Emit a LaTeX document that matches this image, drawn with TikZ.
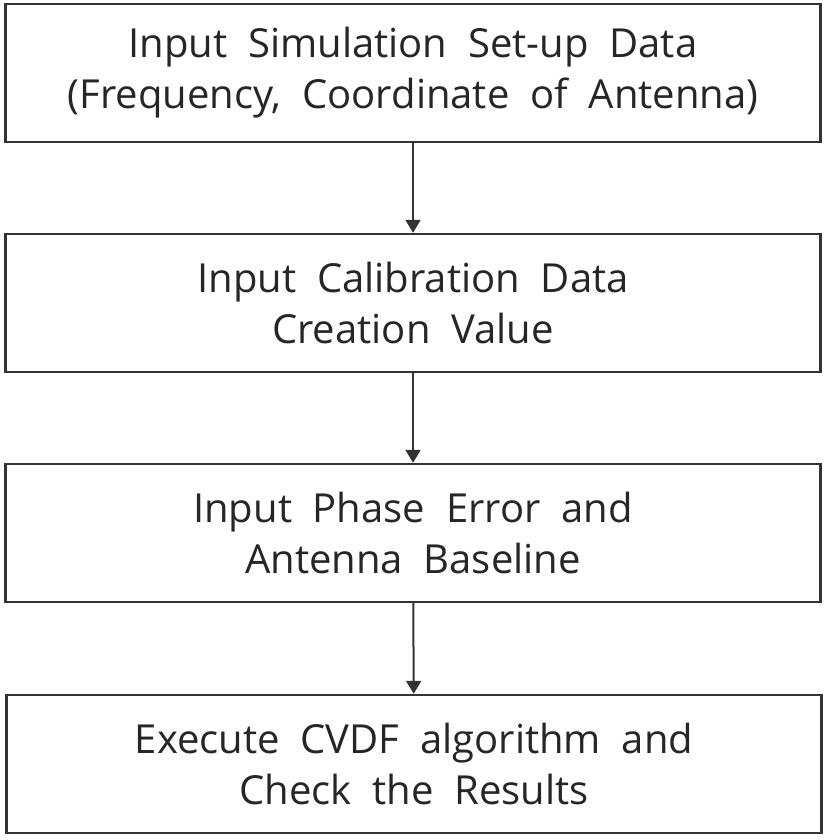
\documentclass[tikz,border=0pt]{standalone}
\usepackage{fontspec}
\setmainfont{Open Sans}
\usetikzlibrary{arrows.meta}
\begin{document}
\begin{tikzpicture}[x=1pt,y=-1pt,
  stepbox/.style={draw=black!80, line width=2.4pt, minimum width=815pt, minimum height=138pt, inner sep=0pt, align=center, font=\fontsize{40}{51}\selectfont, text=black!85},
  conn/.style={draw=black!80, line width=2pt, -{Triangle[width=15pt,length=13pt]}}]
\useasboundingbox (0,0) rectangle (827,840);
\node[stepbox] (b1) at (413,73) {Input\ \ Simulation\ \ Set-up\ \ Data\\(Frequency,\ \ Coordinate\ \ of\ \ Antenna)};
\node[stepbox] (b2) at (413,303) {Input\ \ Calibration\ \ Data\\Creation\ \ Value};
\node[stepbox] (b3) at (413,533) {Input\ \ Phase\ \ Error\ \ and\\Antenna\ \ Baseline};
\node[stepbox] (b4) at (414,764) {Execute\ \ CVDF\ \ algorithm\ \ and\\Check\ \ the\ \ Results};
\draw[conn] (b1) -- (b2);
\draw[conn] (b2) -- (b3);
\draw[conn] (b3) -- (b4);
\end{tikzpicture}
\end{document}
